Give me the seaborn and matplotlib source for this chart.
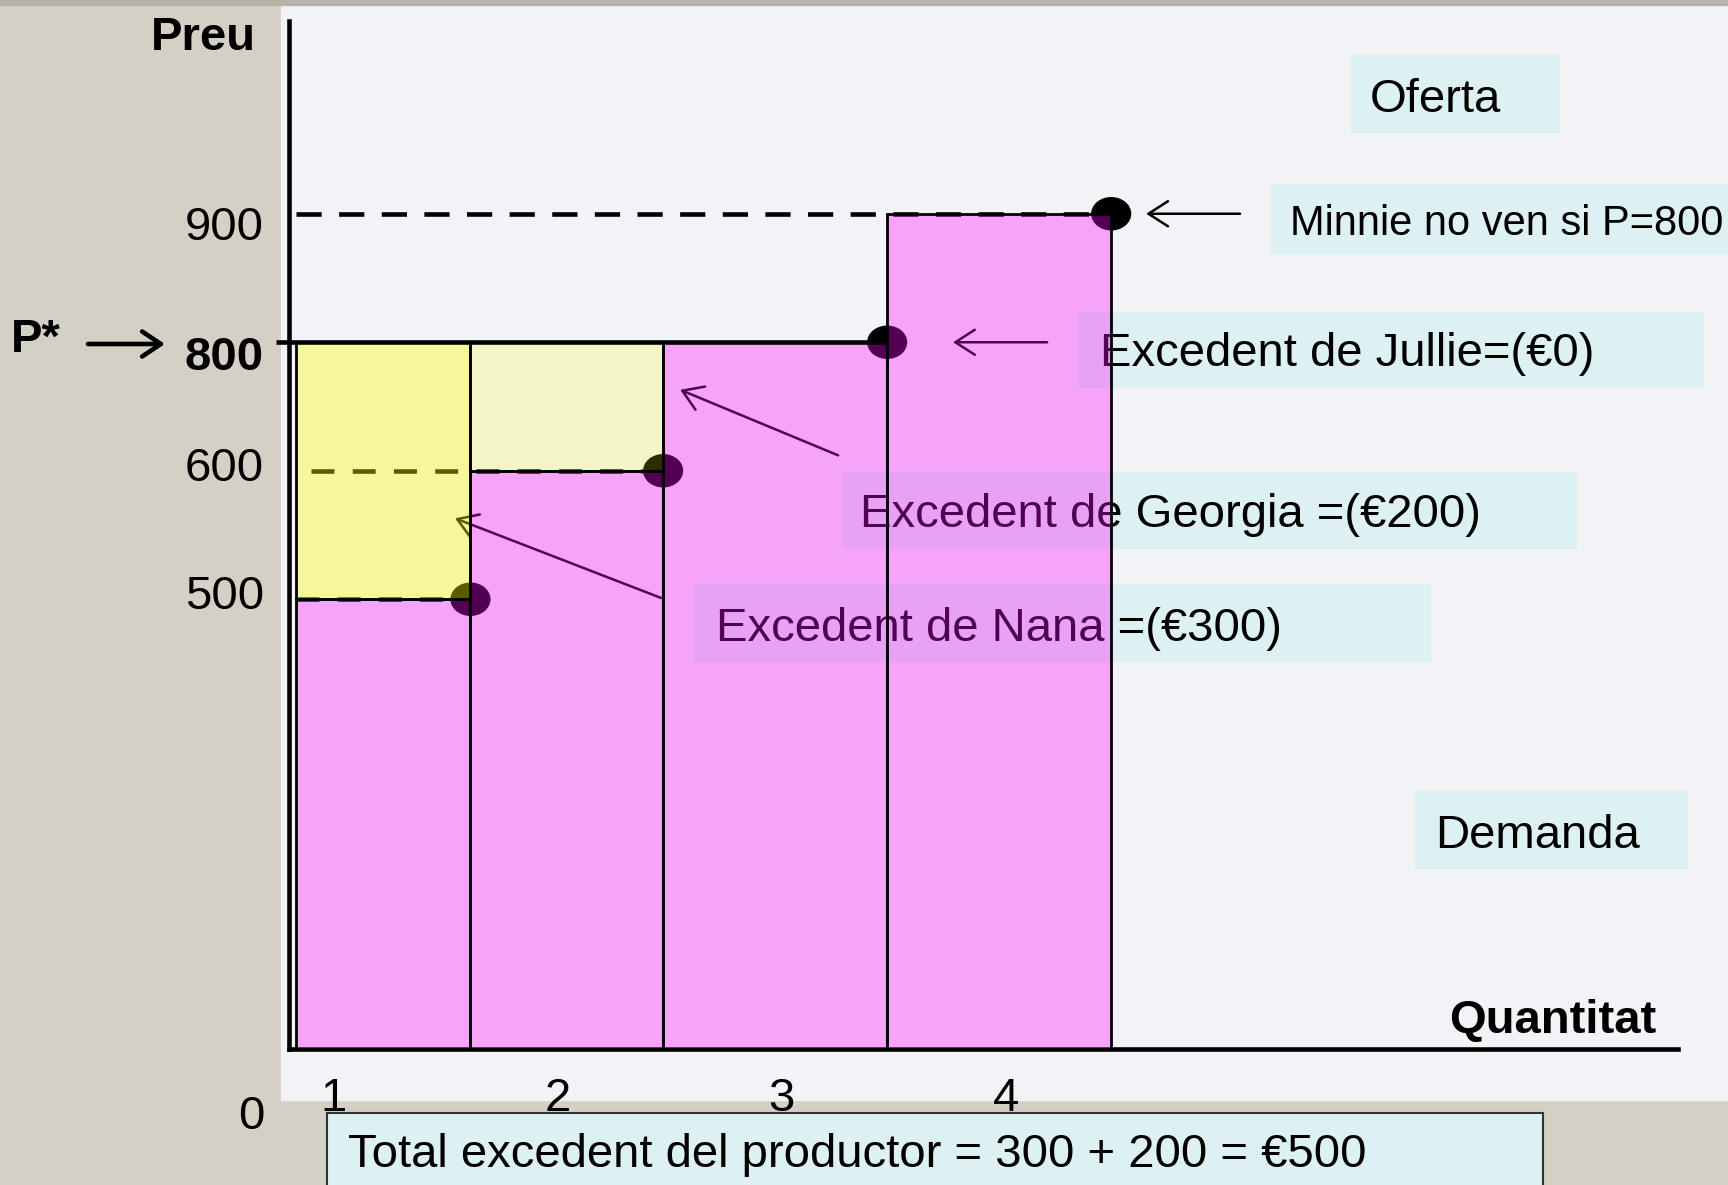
import numpy as np
import pandas as pd
import matplotlib
matplotlib.use('Agg')
import matplotlib.pyplot as plt
import seaborn as sns
from matplotlib.markers import MarkerStyle
from matplotlib.patches import Rectangle
from matplotlib.transforms import Affine2D, ScaledTranslation

# data
sellers = ['Nana', 'Georgia', 'Jullie', 'Minnie']
costs = [500, 600, 800, 900]
q_edges = [0.83, 1.61, 2.47, 3.47, 4.47]   # step widths as drawn
p_star = 800
price_ticks = [500, 600, 800, 900]
qty_ticks = [1, 2, 3, 4]

surplus = [p_star - c for c in costs[:3]]

sns.set_theme(style='white')
plt.rcParams['font.family'] = ['Liberation Sans', 'DejaVu Sans']
plt.rcParams['text.color'] = 'black'

W, H = 1728, 1185
FS = 34


def fx(px):
    return px / W


def fy(py):
    return 1 - py / H


fig = plt.figure(figsize=(W / 100, H / 100), dpi=100, facecolor='#d5d0c5')
ax = fig.add_axes([fx(289), fy(1049), (1678 - 289) / W, 1028 / H])
ax.set_facecolor('none')

# light slide panel behind the chart
fig.add_artist(Rectangle((fx(281), fy(1100)), 1 - fx(281), (1100 - 6) / H,
                         transform=fig.transFigure, color='#f1f3f6', zorder=-1))
fig.add_artist(Rectangle((0, fy(5)), 1, 5 / H, transform=fig.transFigure,
                         color='#b8b3ab', zorder=-1))

# price axis is not to scale on the slide: equal steps between the ticks
knots_p = [0, 500, 600, 800, 900, 1100]
knots_v = [0, 3.5, 4.5, 5.5, 6.5, 8.0]
ax.set_yscale('function', functions=(lambda p: np.interp(p, knots_p, knots_v),
                                     lambda v: np.interp(v, knots_v, knots_p)))

df = pd.DataFrame({
    'seller': sellers,
    'cost': costs,
    'q_mid': [(a + b) / 2 for a, b in zip(q_edges[:-1], q_edges[1:])],
})

# supply steps (pink overlay)
sns.histplot(data=df, x='q_mid', weights='cost', bins=q_edges, stat='count',
             color='magenta', alpha=0.32, edgecolor='black', linewidth=2,
             zorder=10, ax=ax)

# producer surplus (yellow overlay)
ax.bar(q_edges[:2], surplus[:2], width=np.diff(q_edges[:3]), bottom=costs[:2],
       align='edge', color=[(1, 1, 0, 0.36), (1, 1, 0, 0.18)],
       edgecolor='black', linewidth=2, zorder=10)

# price lines
ax.plot([q_edges[0], q_edges[4]], [costs[3], costs[3]], color='black', lw=3.3,
        dashes=(5.5, 3.8), zorder=2)
ax.plot([0.74, q_edges[3]], [p_star, p_star], color='black', lw=3.3,
        solid_capstyle='butt', clip_on=False, zorder=11)
ax.plot([0.90, q_edges[2]], [costs[1], costs[1]], color='black', lw=3.3,
        dashes=(5, 4), zorder=2)
ax.plot([q_edges[0], q_edges[1]], [costs[0], costs[0]], color='black', lw=3.3,
        dashes=(5, 4), zorder=2)

dot = MarkerStyle('o', transform=Affine2D().scale(1.2, 1.0))
sns.scatterplot(x=q_edges[1:], y=costs, marker=dot, s=580, color='black',
                edgecolor='none', zorder=3, ax=ax)

# annotation boxes: (text, text left px, text centre px, box x0, x1, y0, y1, size)
notes = [
    ('Oferta', 1370, 100, 1351, 1559, 55, 132, FS),
    (f'Minnie no ven si P={p_star}', 1290, 224, 1271, 1740, 184, 253, 30),
    (f'Excedent de {sellers[2]}=(€{surplus[2]})', 1100, 354, 1078, 1703, 312, 387, FS),
    (f'Excedent de {sellers[1]} =(€{surplus[1]})', 860, 515, 843, 1576, 472, 548, FS),
    (f'Excedent de {sellers[0]} =(€{surplus[0]})', 716, 629, 694, 1430, 584, 661, FS),
    ('Demanda', 1435, 836, 1415, 1687, 791, 868, FS),
]
for txt, tx, ty, x0, x1, y0, y1, size in notes:
    ax.add_patch(Rectangle((fx(x0), fy(y1)), (x1 - x0) / W, (y1 - y0) / H,
                           transform=fig.transFigure, color='#ddf0f2',
                           clip_on=False, zorder=1))
    ax.text(fx(tx), fy(ty), txt, transform=fig.transFigure, ha='left',
            va='center', fontsize=size, color='black', zorder=2)

arrow = dict(arrowstyle='->,head_length=0.7,head_width=0.45', lw=1.8,
             color='black', mutation_scale=20, shrinkA=0, shrinkB=0)
ax.annotate('', xy=(4.626, costs[3]), xytext=(5.045, costs[3]), arrowprops=arrow, zorder=4)
ax.annotate('', xy=(3.764, p_star), xytext=(4.184, p_star), arrowprops=arrow, zorder=4)
ax.annotate('', xy=(2.546, 726), xytext=(3.251, 624), arrowprops=arrow, zorder=4)
ax.annotate('', xy=(1.541, 563), xytext=(2.461, 501), arrowprops=arrow, zorder=4)

# axes
ax.set_xlim(0.8, 7.0)
ax.set_ylim(0, 1100)
ax.set(xlabel='', ylabel='')
ax.set_yticks(price_ticks, labels=[str(p) for p in price_ticks])
ax.set_xticks(qty_ticks, labels=[str(q) for q in qty_ticks])
ax.minorticks_off()
ax.tick_params(axis='y', length=0, pad=18, labelsize=FS, labelcolor='black')
ax.tick_params(axis='x', length=0, pad=20, labelsize=FS, labelcolor='black')
# the slide's price labels sit a little off their lines
label_shift = {500: -7, 600: -7, 800: 11, 900: 9}
for p, lab in zip(price_ticks, ax.get_yticklabels()):
    if p == p_star:
        lab.set_fontweight('bold')
    lab.set_transform(lab.get_transform()
                      + ScaledTranslation(0, -label_shift[p] / 100, fig.dpi_scale_trans))
sns.despine(ax=ax)
for side in ['left', 'bottom']:
    ax.spines[side].set_color('black')
    ax.spines[side].set_linewidth(3.3)

fig.text(fx(256), fy(38), 'Preu', ha='right', va='center', fontsize=FS, fontweight='bold')
fig.text(fx(1656), fy(1021), 'Quantitat', ha='right', va='center', fontsize=FS, fontweight='bold')
fig.text(fx(251), fy(1117), '0', ha='center', va='center', fontsize=FS)
fig.text(fx(11), fy(340), 'P*', ha='left', va='center', fontsize=FS, fontweight='bold')
ax.annotate('', xy=(fx(165), fy(344)), xytext=(fx(88), fy(344)), xycoords='figure fraction',
            arrowprops=dict(arrowstyle='->,head_length=0.45,head_width=0.3', lw=3.3,
                            color='black', mutation_scale=30, shrinkA=0, shrinkB=0))

# total box sits over the quantity labels
fig.add_artist(Rectangle((fx(327), fy(1190)), (1543 - 327) / W, (1190 - 1113) / H,
                         transform=fig.transFigure, facecolor='#ddf0f2',
                         edgecolor='#333333', lw=1.5, zorder=1))
fig.text(fx(348), fy(1155),
         f'Total excedent del productor = {surplus[0]} + {surplus[1]} = €{sum(surplus)}',
         ha='left', va='center', fontsize=FS, zorder=3)

fig.savefig('out.png', dpi=100)
